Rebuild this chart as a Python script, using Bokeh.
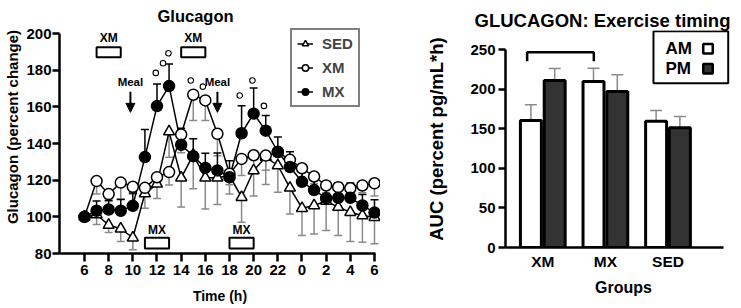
from bokeh.plotting import figure
from bokeh.layouts import row, column
from bokeh.models import (ColumnDataSource, Whisker, TeeHead, Legend, LegendItem,
                          FixedTicker, Label, Arrow, NormalHead, BoxAnnotation, Range1d)
from bokeh.embed import file_html
from bokeh.resources import INLINE
from bokeh.core.properties import value

# ---------------- data: left panel (glucagon time course) ----------------
hours = list(range(6, 31))
sed = [100, 101.3, 95.5, 93.5, 88.6, 112.7, 118, 146.5, 121.3, 133.8, 121.3, 121.3, 122.5,
       110.7, 125.3, 132.6, 128, 115.8, 104.7, 106.2, 108.6, 105.3, 102.5, 100.7, 99.8]
sed_err = [0, 5.5, 4, 7, 6.5, 8, 8, 14, 16, 18.5, 17, 14.6, 10, 13.7, 14, 15, 14.6, 14.2,
           14.9, 15.5, 16.1, 15.5, 16, 14.5, 14.5]
xm = [100, 119.5, 112.4, 118.7, 116.4, 115.8, 121.6, 124.4, 144.9, 166.6, 163.5, 145.3, 123.5,
      131.6, 133.6, 133.4, 135.3, 131.1, 126.5, 122, 117.1, 116.2, 115.6, 117.1, 118.3]
xm_err = [0, 7, 4, 9, 4, 3, 4, 7, 10, 14, 11, 12, 6, 9, 10, 8, 8, 5, 5, 4, 4, 4, 4, 4, 7]
mx = [100, 103.3, 104, 103.3, 106, 132.6, 160.4, 171.3, 139.3, 133.1, 126.7, 125.3, 121.6,
      145.6, 156.3, 147, 135.5, 127.2, 119.1, 114.6, 110.2, 110.4, 110.4, 106.2, 102.3]
mx_err = [0, 5.3, 5, 6.2, 7, 15, 12, 12, 9, 9.5, 8, 9.5, 9, 15, 14, 8.3, 8, 8.3, 7, 6, 7, 8, 8, 6, 7]

x_ticks = [6, 8, 10, 12, 14, 16, 18, 20, 22, 24, 26, 28, 30]
x_tick_labels = ["6", "8", "10", "12", "14", "16", "18", "20", "22", "0", "2", "4", "6"]
y_ticks = [80, 100, 120, 140, 160, 180, 200]

sig_x = [11.9, 12.5, 12.95, 14.8, 15.8, 18.85, 19.9, 20.85]
sig_y = [178.5, 183.8, 189.2, 174.4, 171.0, 166.2, 174.4, 160.5]

meal_times = [9.8, 17.0]
xm_start = [7, 14]
xm_end = [9, 16]
mx_start = [11, 18]
mx_end = [13, 20]

# ---------------- data: right panel (AUC bars) ----------------
groups = ["XM", "MX", "SED"]
auc_am = [160.7, 210.0, 159.8]
auc_am_err = [19.8, 16.8, 13.6]
auc_pm = [211.2, 197.3, 151.5]
auc_pm_err = [15.2, 21.1, 14.3]
auc_ticks = [0, 50, 100, 150, 200, 250]

FONT = "Liberation Sans"
GRAY = "#8a8a8a"
DARK = "#333333"


def style_axis(ax, size="15px"):
    ax.axis_line_width = 2.5
    ax.axis_line_color = "black"
    ax.major_tick_line_width = 2.5
    ax.major_tick_line_color = "black"
    ax.major_tick_in = 0
    ax.minor_tick_line_color = None
    ax.major_label_text_font = FONT
    ax.major_label_text_font_style = "bold"
    ax.major_label_text_font_size = size
    ax.major_label_text_color = "black"
    ax.axis_label_text_font = FONT
    ax.axis_label_text_font_style = "bold"
    ax.axis_label_text_color = "black"


# ======================= LEFT FIGURE =======================
X0 = 6 - (84 - 59) / 12.083
X1 = 6 + (380 - 84) / 12.083
Y1 = 200 + 33 / 1.8333
p1 = figure(width=380, height=308, x_range=Range1d(X0, X1), y_range=Range1d(80, Y1),
            output_backend="svg", toolbar_location=None,
            min_border_left=59, min_border_right=0, min_border_top=0, min_border_bottom=55)
p1.outline_line_color = None
p1.grid.visible = False
p1.background_fill_color = "white"

xa = p1.xaxis[0]
style_axis(xa)
xa.ticker = FixedTicker(ticks=x_ticks)
xa.major_label_overrides = {t: l for t, l in zip(x_ticks, x_tick_labels)}
xa.bounds = (X0, 30.1)
xa.major_tick_out = 8
xa.major_label_standoff = 3
xa.axis_label = "Time (h)"
xa.axis_label_text_font_size = "14px"
xa.axis_label_standoff = 10

ya = p1.yaxis[0]
style_axis(ya)
ya.ticker = FixedTicker(ticks=y_ticks)
ya.bounds = (80, 200)
ya.major_tick_out = 7
ya.major_label_standoff = 1
ya.axis_label = "Glucagon (percent change)"
ya.axis_label_text_font_size = "15px"
ya.axis_label_standoff = 2

src = ColumnDataSource(dict(
    h=hours, sed=sed, xm=xm, mx=mx,
    sed_lo=[v - e for v, e in zip(sed, sed_err)],
    xm_lo=[v - e for v, e in zip(xm, xm_err)],
    mx_hi=[v + e for v, e in zip(mx, mx_err)],
))

p1.add_layout(Whisker(source=src, base="h", upper="sed", lower="sed_lo", dimension="height",
                      line_color=GRAY, line_width=1.5, upper_head=None,
                      lower_head=TeeHead(size=8, line_color=GRAY, line_width=1.5), level="underlay"))
p1.add_layout(Whisker(source=src, base="h", upper="xm", lower="xm_lo", dimension="height",
                      line_color=GRAY, line_width=1.5, upper_head=None,
                      lower_head=TeeHead(size=8, line_color=GRAY, line_width=1.5), level="underlay"))
p1.add_layout(Whisker(source=src, base="h", upper="mx_hi", lower="mx", dimension="height",
                      line_color="black", line_width=1.5, lower_head=None,
                      upper_head=TeeHead(size=8, line_color="black", line_width=1.5), level="underlay"))

l_sed = p1.line("h", "sed", source=src, line_color="black", line_width=1.5)
l_xm = p1.line("h", "xm", source=src, line_color="black", line_width=1.5)
l_mx = p1.line("h", "mx", source=src, line_color="black", line_width=1.5)
s_sed = p1.scatter("h", "sed", source=src, marker="triangle", size=11, fill_color="white",
                   line_color="black", line_width=1.5)
s_xm = p1.scatter("h", "xm", source=src, marker="circle", size=11, fill_color="white",
                  line_color="black", line_width=1.5)
s_mx = p1.scatter("h", "mx", source=src, marker="circle", size=11, fill_color="black",
                  line_color="black", line_width=1.5)

p1.scatter(sig_x, sig_y, marker="circle", size=5.5, fill_color="white", line_color="black",
           line_width=1.1)

p1.quad(left=xm_start, right=xm_end, bottom=187.1, top=192.5, fill_color="white",
        line_color="black", line_width=2)
p1.quad(left=mx_start, right=mx_end, bottom=82.7, top=88.6, fill_color="white",
        line_color="black", line_width=2)
p1.text(x=[(a + b) / 2 for a, b in zip(xm_start, xm_end)], y=[197.6] * len(xm_start),
        text=["XM"] * len(xm_start), text_font=value(FONT), text_font_style="bold",
        text_font_size="12px", text_align="center", text_baseline="middle", text_color="black")
p1.text(x=[(a + b) / 2 for a, b in zip(mx_start, mx_end)], y=[92.9] * len(mx_start),
        text=["MX"] * len(mx_start), text_font=value(FONT), text_font_style="bold",
        text_font_size="12px", text_align="center", text_baseline="middle", text_color="black")

p1.text(x=meal_times, y=[173.8] * len(meal_times), text=["Meal"] * len(meal_times),
        text_font=value(FONT), text_font_style="bold", text_font_size="11.5px",
        text_align="center", text_baseline="middle", text_color="black")
for t in meal_times:
    p1.add_layout(Arrow(x_start=t, y_start=168.2, x_end=t, y_end=157.0, line_width=2,
                        line_color="black",
                        end=NormalHead(size=9, fill_color="black", line_color="black", line_width=1)))

p1.add_layout(Label(x=15.19, y=209.5, text="Glucagon", text_font=FONT, text_font_style="bold",
                    text_font_size="16.5px", text_align="center", text_baseline="alphabetic",
                    text_color="black"))

legend = Legend(items=[LegendItem(label="SED", renderers=[l_sed, s_sed]),
                       LegendItem(label="XM", renderers=[l_xm, s_xm]),
                       LegendItem(label="MX", renderers=[l_mx, s_mx])],
                location=(231, 146), margin=0, padding=5, spacing=7,
                glyph_width=16, glyph_height=17, label_height=17, label_standoff=9,
                label_text_font=FONT, label_text_font_style="bold", label_text_font_size="15px",
                border_line_color="black", border_line_width=2, background_fill_alpha=1)
p1.add_layout(legend)

# ======================= RIGHT FIGURE =======================
PXU = 62.6
BX0 = 1 - (542.3 - 505) / PXU
BX1 = 1 + (741 - 542.3) / PXU
BPY = (247 - 49.3) / 250.0
BY1 = (247 - 30) / BPY
p2 = figure(width=361, height=308, x_range=Range1d(BX0, BX1), y_range=Range1d(0, BY1),
            output_backend="svg", toolbar_location=None,
            min_border_left=125, min_border_right=0, min_border_top=30, min_border_bottom=61)
p2.outline_line_color = None
p2.grid.visible = False
p2.title.text = "GLUCAGON: Exercise timing"
p2.title.text_font = FONT
p2.title.text_font_style = "bold"
p2.title.text_font_size = "18.5px"
p2.title.text_color = "black"
p2.title.align = "left"
p2.title.offset = -31
p2.title.standoff = 0

xb = p2.xaxis[0]
style_axis(xb, "15.5px")
xb.ticker = FixedTicker(ticks=[1, 2, 3])
xb.major_label_overrides = {i + 1: g for i, g in enumerate(groups)}
xb.bounds = (BX0, 3.887)
xb.major_tick_out = 0
xb.major_tick_line_color = None
xb.major_label_standoff = 5
xb.axis_label = "Groups"
xb.axis_label_text_font_size = "16px"
xb.axis_label_standoff = 6

yb = p2.yaxis[0]
style_axis(yb, "15px")
yb.ticker = FixedTicker(ticks=auc_ticks)
yb.bounds = (0, 250)
yb.major_tick_out = 7
yb.major_label_standoff = 3
yb.axis_label = "AUC (percent pg/mL*h)"
yb.axis_label_text_font_size = "18.5px"
yb.axis_label_standoff = 20

OFF = 0.19
W = 0.335
bsrc = ColumnDataSource(dict(
    x_am=[i + 1 - OFF for i in range(len(groups))],
    x_pm=[i + 1 + OFF for i in range(len(groups))],
    am=auc_am, pm=auc_pm,
    am_hi=[v + e for v, e in zip(auc_am, auc_am_err)],
    pm_hi=[v + e for v, e in zip(auc_pm, auc_pm_err)],
))
for base, lo, hi in (("x_am", "am", "am_hi"), ("x_pm", "pm", "pm_hi")):
    p2.add_layout(Whisker(source=bsrc, base=base, lower=lo, upper=hi, dimension="height",
                          line_color=GRAY, line_width=1.5, lower_head=None,
                          upper_head=TeeHead(size=12, line_color=GRAY, line_width=1.5),
                          level="underlay"))
p2.vbar(x="x_am", top="am", bottom=0, width=W, source=bsrc, fill_color="white",
        line_color="black", line_width=3)
p2.vbar(x="x_pm", top="pm", bottom=0, width=W, source=bsrc, fill_color=DARK,
        line_color="black", line_width=3)

p2.line(x=[0.75, 0.75, 1.815, 1.815], y=[235.6, 247.0, 247.0, 235.6], line_color="black",
        line_width=2.5)

p2.add_layout(BoxAnnotation(left=2.768, right=3.962, bottom=207.8, top=273.5,
                            fill_color="white", fill_alpha=1, line_color="black",
                            line_alpha=1, line_width=2, level="underlay"))
p2.text(x=[2.96, 2.96], y=[251.3, 226.0], text=["AM", "PM"], text_font=value(FONT),
        text_font_style="bold", text_font_size="17px", text_align="left",
        text_baseline="middle", text_color="black")
p2.scatter(x=[3.639, 3.639], y=[251.3, 226.0], marker="square", size=9.5,
           fill_color=["white", DARK], line_color="black", line_width=2.5)

# keep each panel's frame independent (no cross-plot frame alignment)
for fig in (p1, p2):
    if hasattr(fig, "frame_align"):
        fig.frame_align = False

layout = row(p1, column(p2))
open("out.html", "w").write(file_html(layout, INLINE))
